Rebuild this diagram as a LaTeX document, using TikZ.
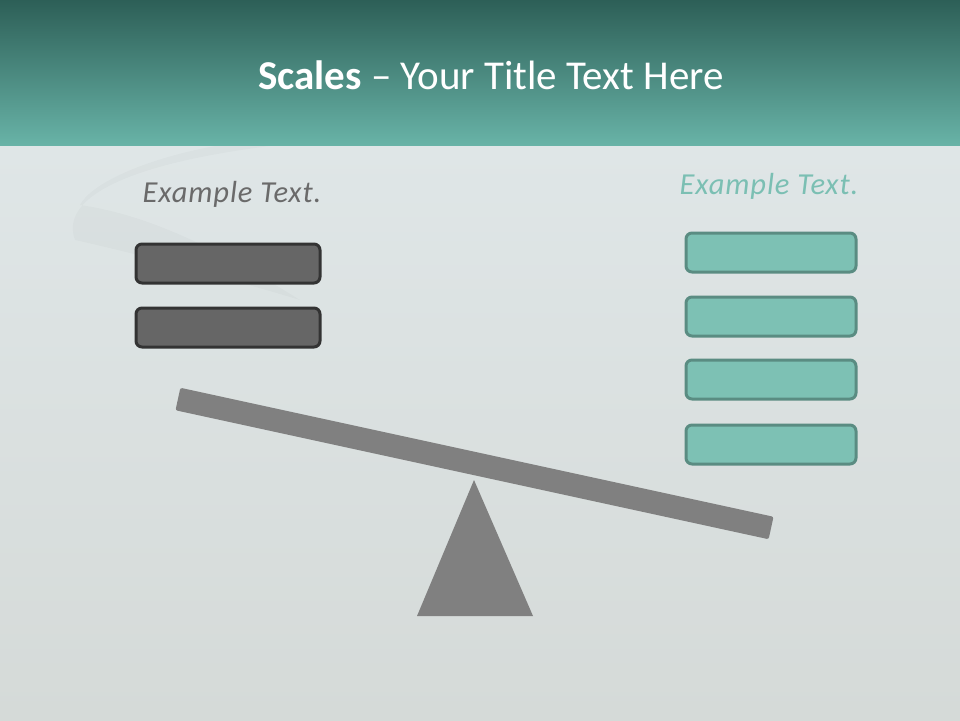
\documentclass[tikz,border=0pt]{standalone}
\usepackage{fontspec}
\setmainfont{Carlito}
\definecolor{bartop}{HTML}{2D5F57}
\definecolor{barbot}{HTML}{68B3A7}
\definecolor{bgtop}{HTML}{DFE6E7}
\definecolor{bgbot}{HTML}{D5DAD8}
\definecolor{darkfill}{HTML}{666666}
\definecolor{darkline}{HTML}{333333}
\definecolor{tealfill}{HTML}{7DC1B4}
\definecolor{tealline}{HTML}{5A8C82}
\definecolor{tealtext}{HTML}{7BBFB3}
\definecolor{graytext}{HTML}{6A6A6A}
\definecolor{scalegray}{HTML}{808080}
\tikzset{
  darkbox/.style={draw=darkline, fill=darkfill, line width=3pt, rounded corners=6pt, minimum width=184pt, minimum height=39pt, inner sep=0pt},
  tealbox/.style={draw=tealline, fill=tealfill, line width=3pt, rounded corners=6pt, minimum width=170pt, minimum height=39pt, inner sep=0pt},
  extext/.style={font=\fontsize{30.5}{34}\selectfont\itshape\addfontfeatures{LetterSpace=3}, inner sep=0pt}
}
\begin{document}
\begin{tikzpicture}[x=1pt,y=-1pt]
\useasboundingbox (0,0) rectangle (960,720);
% background
\shade[top color=bgtop, bottom color=bgbot] (0,145) rectangle (960,720);
\fill[black, opacity=0.02] (75,240) .. controls (60,200) and (120,165) .. (270,146) -- (215,146) .. controls (140,160) and (90,185) .. (80,205) .. controls (150,215) and (220,250) .. (300,300) .. controls (200,270) and (120,250) .. (75,240) -- cycle;
% title bar
\shade[top color=bartop, bottom color=barbot] (0,0) rectangle (960,145);
\node[text=white, font=\fontsize{41}{48}\selectfont, inner sep=0pt] (title) at (491,75) {\textbf{Scales} – Your Title Text Here};
% left side
\node[extext, text=graytext] (ltext) at (232,194) {Example Text.};
\node[darkbox] (l1) at (228,263.5) {};
\node[darkbox] (l2) at (228,327.5) {};
% right side
\node[extext, text=tealtext] (rtext) at (769,186) {Example Text.};
\node[tealbox] (r1) at (771,252.5) {};
\node[tealbox] (r2) at (771,316.5) {};
\node[tealbox] (r3) at (771,379.5) {};
\node[tealbox] (r4) at (771,444.5) {};
% scale
\fill[scalegray] (474,480) -- (417,616) -- (533,616) -- cycle;
\node[fill=scalegray, rounded corners=2pt, minimum width=607pt, minimum height=23pt, inner sep=0pt, rotate=-12.27] (beam) at (474.5,463.5) {};
\end{tikzpicture}
\end{document}
